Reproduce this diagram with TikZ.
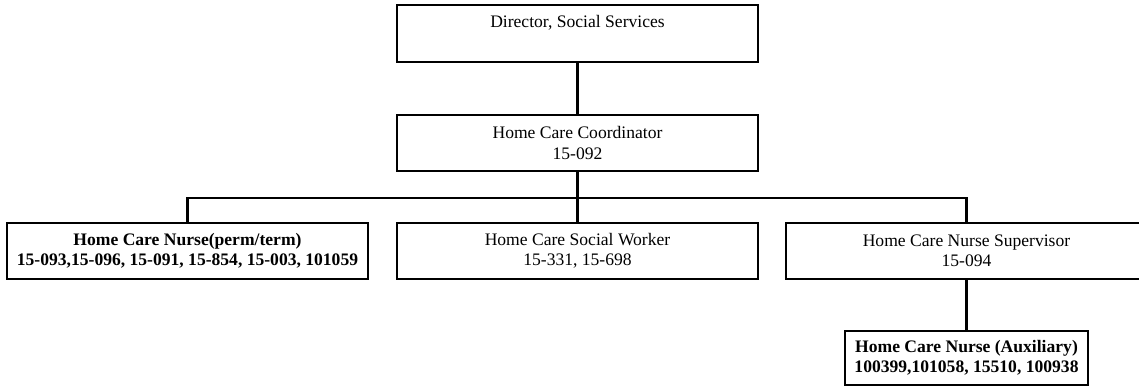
\documentclass[tikz,border=0pt]{standalone}
\usepackage{fontspec}
\setmainfont{Liberation Serif}
\begin{document}
\begin{tikzpicture}[
        postbox/.style={draw, line width=1.1pt, minimum width=7.22cm, minimum height=1.12cm, inner sep=0pt, align=center, font=\fontsize{10}{11.5}\selectfont},
        link/.style={line width=1.7pt},
    ]
        \useasboundingbox (0, 0) rectangle (22.78, -7.74);

        % Posts
        \node[postbox, minimum height=1.14cm, text height=0.46cm, text depth=0.68cm] (director) at (11.55, -0.67) {Director, Social Services};
        \node[postbox] (coordinator) at (11.55, -2.86) {Home Care Coordinator\\15-092};
        \node[postbox, font=\fontsize{10}{11.5}\selectfont\bfseries] (nurse) at (3.75, -5.02) {Home Care Nurse(perm/term)\\15-093,15-096, 15-091, 15-854, 15-003, 101059};
        \node[postbox] (social) at (11.55, -5.02) {Home Care Social Worker\\15-331, 15-698};
        \node[postbox] (supervisor) at (19.33, -5.02) {Home Care Nurse Supervisor\\15-094};
        \node[postbox, minimum width=4.86cm, minimum height=1.08cm, font=\fontsize{10}{11.5}\selectfont\bfseries] (auxiliary) at (19.33, -7.16) {Home Care Nurse (Auxiliary)\\100399,101058, 15510, 100938};

        % Reporting lines
        \coordinate (bus) at (11.55, -3.96);
        \draw[link] (director) -- (coordinator);
        \draw[link] (coordinator) -- (bus);
        \draw[link] (nurse.north) |- (bus) -| (supervisor.north);
        \draw[link] (bus) -- (social);
        \draw[link] (supervisor) -- (auxiliary);
    \end{tikzpicture}
\end{document}
